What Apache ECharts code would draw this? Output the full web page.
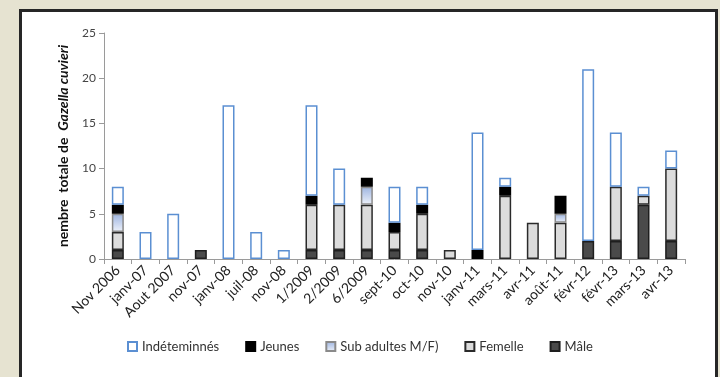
<!DOCTYPE html>
<html>
<head>
<meta charset="utf-8">
<script src="https://cdn.jsdelivr.net/npm/echarts@6/dist/echarts.min.js"></script>
<style>
  html, body { margin: 0; padding: 0; background: #e6e3d1; width: 720px; height: 377px; overflow: hidden; }
  #panel { position: absolute; left: 19px; top: 9px; width: 693px; height: 400px; background: #fff; border: 3px solid #262626; }
  #chart { position: absolute; left: 0; top: 0; width: 720px; height: 377px; }
</style>
</head>
<body>
<div id="panel"></div>
<div id="chart"></div>
<script>
// Survey dates
const categories = ['Nov 2006', 'janv-07', 'Aout 2007', 'nov-07', 'janv-08', 'juil-08', 'nov-08',
  '1/2009', '2/2009', '6/2009', 'sept-10', 'oct-10', 'nov-10', 'janv-11', 'mars-11', 'avr-11',
  'août-11', 'févr-12', 'févr-13', 'mars-13', 'avr-13'];

// Counts per group, stacked bottom to top: Mâle, Femelle, Sub adultes, Jeunes, Indéterminés
const male       = [1, 0, 0, 1, 0, 0, 0, 1, 1, 1, 1, 1, 0, 0, 0, 0, 0, 2, 2, 6, 2];
const femelle    = [2, 0, 0, 0, 0, 0, 0, 5, 5, 5, 2, 4, 1, 0, 7, 4, 4, 0, 6, 1, 8];
const subAdultes = [2, 0, 0, 0, 0, 0, 0, 0, 0, 2, 0, 0, 0, 0, 0, 0, 1, 0, 0, 0, 0];
const jeunes     = [1, 0, 0, 0, 0, 0, 0, 1, 0, 1, 1, 1, 0, 1, 1, 0, 2, 0, 0, 0, 0];
const indet      = [2, 3, 5, 0, 17, 3, 1, 10, 4, 0, 4, 2, 0, 13, 1, 0, 0, 19, 6, 1, 2];

const yTicks = [0, 5, 10, 15, 20, 25];

const font = 'Lato, "Open Sans", sans-serif';
const noZero = arr => arr.map(v => (v === 0 ? null : v));

function bar(name, data, style) {
  return {
    name: name,
    type: 'bar',
    stack: 'total',
    barWidth: 12,
    data: noZero(data),
    itemStyle: Object.assign({ borderWidth: 1.5 }, style)
  };
}

const chart = echarts.init(document.getElementById('chart'), null, { renderer: 'canvas' });

chart.setOption({
  backgroundColor: 'transparent',
  animation: false,
  grid: { left: 104, right: 35, top: 33, bottom: 118 },
  legend: {
    data: ['Indéteminnés', 'Jeunes', 'Sub adultes M/F)', 'Femelle', 'Mâle'],
    left: 122,
    top: 335,
    itemWidth: 9,
    itemHeight: 9,
    itemGap: 26,
    icon: 'rect',
    textStyle: { fontFamily: font, fontSize: 13, color: '#333' }
  },
  xAxis: {
    type: 'category',
    data: categories,
    axisLine: { lineStyle: { color: '#9a9a9a', width: 1 } },
    axisTick: { show: true, length: 5, lineStyle: { color: '#9a9a9a' } },
    axisLabel: { rotate: 45, fontFamily: font, fontSize: 14, color: '#222', margin: 9, interval: 0 }
  },
  yAxis: {
    type: 'value',
    min: yTicks[0],
    max: yTicks[yTicks.length - 1],
    interval: 5,
    splitLine: { show: false },
    axisLine: { show: true, lineStyle: { color: '#9a9a9a', width: 1 } },
    axisTick: { show: true, length: 5, lineStyle: { color: '#9a9a9a' } },
    axisLabel: { fontFamily: font, fontSize: 12, color: '#444', margin: 8 },
    name: '{a|nembre  totale de  }{b|Gazella cuvieri}',
    nameLocation: 'middle',
    nameRotate: 90,
    nameGap: 34,
    nameTextStyle: {
      rich: {
        a: { fontFamily: font, fontSize: 14, fontWeight: 'bold', color: '#111' },
        b: { fontFamily: font, fontSize: 14, fontWeight: 'bold', fontStyle: 'italic', color: '#111' }
      }
    }
  },
  series: [
    bar('Mâle', male, { color: '#4a4a4a', borderColor: '#1e1e1e' }),
    bar('Femelle', femelle, { color: '#dcdcdc', borderColor: '#2a2a2a' }),
    bar('Sub adultes M/F)', subAdultes, {
      color: new echarts.graphic.LinearGradient(0, 0, 0, 1, [
        { offset: 0, color: '#9db4e0' },
        { offset: 1, color: '#eef2fa' }
      ]),
      borderColor: '#8a8a8a'
    }),
    bar('Jeunes', jeunes, { color: '#000000', borderColor: '#000000' }),
    bar('Indéteminnés', indet, { color: '#ffffff', borderColor: '#5b8fd2' })
  ]
});
</script>
</body>
</html>
